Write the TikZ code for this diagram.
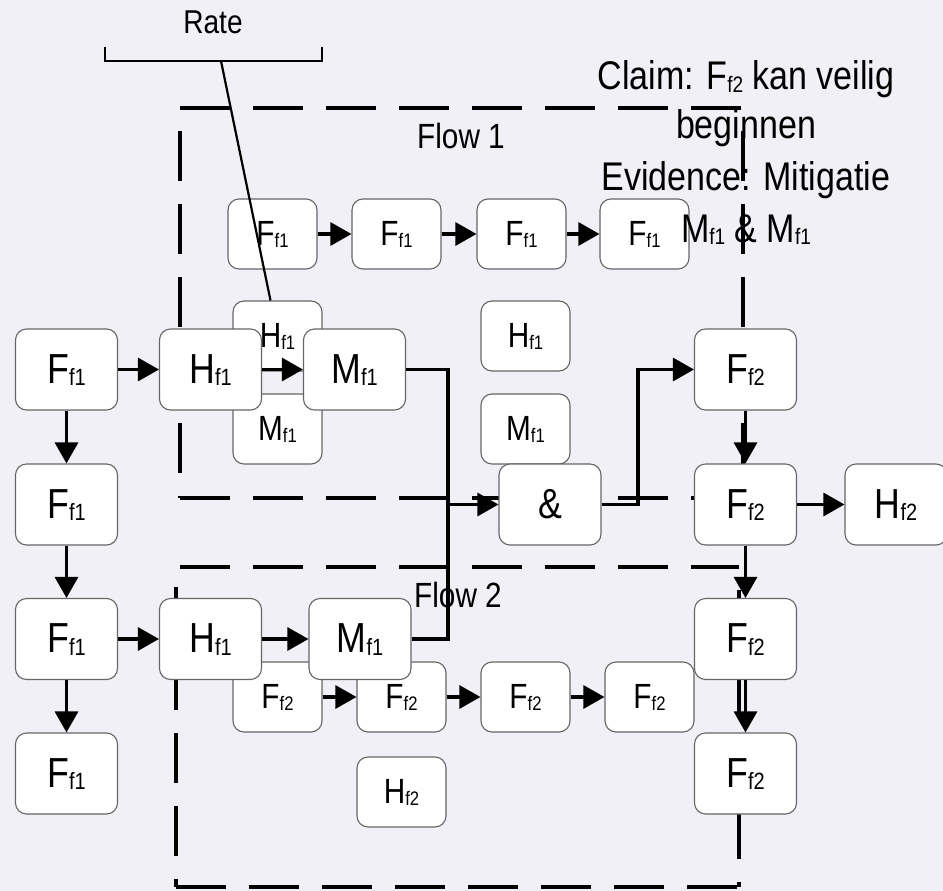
\documentclass[tikz,border=0pt]{standalone}
\usepackage{fontspec}
\setmainfont{Liberation Sans}[FakeStretch=0.85]
\usetikzlibrary{arrows.meta}
\definecolor{bgcol}{HTML}{F0F0F6}
\definecolor{boxline}{HTML}{666666}
\makeatletter
\newcommand\sub[1]{\raisebox{-0.07em}{\fontsize{\fpeval{0.56*\f@size}}{0}\selectfont #1}}
\makeatother
\tikzset{
  box/.style={draw=boxline, fill=white, rounded corners=11pt, line width=1.1pt, inner sep=0pt},
  bigbox/.style={box, minimum width=102pt, minimum height=81pt,
    font=\fontsize{42}{42}\selectfont, text height=30pt, text depth=3pt},
  smallbox/.style={box, minimum width=89pt, minimum height=70pt,
    font=\fontsize{35}{35}\selectfont, text height=25pt, text depth=2pt},
  link/.style={line width=3.1pt},
  arr/.style={link, -{Triangle[length=21pt,width=23pt]}},
  flowframe/.style={line width=3.1pt, dash pattern=on 50pt off 23pt},
  label/.style={anchor=base, inner sep=0pt},
  claim/.style={label, font=\fontsize{40}{40}\selectfont},
}
\begin{document}
\begin{tikzpicture}[x=1pt,y=-1pt]
\fill[bgcol] (0,0) rectangle (943,891);
\useasboundingbox (0,0) rectangle (943,891);

% dashed frame of flow 1
\draw[flowframe] (180,108) -- (743,108);
\draw[flowframe, dash phase=50pt] (180,108) -- (180,498);
\draw[flowframe, dash phase=50pt] (743,108) -- (743,498);
\draw[flowframe] (180,498) -- (743,498);
% dashed frame of flow 2
\draw[flowframe] (180,567) -- (739,567);
\draw[flowframe, dash phase=53pt] (176,567) -- (176,887);
\draw[flowframe, dash phase=50pt] (739,567) -- (739,887);
\draw[flowframe] (176,887) -- (739,887);

% small boxes
\node[smallbox] (t1) at (272.5,234) {F\sub{f1}};
\node[smallbox] (t2) at (396.5,234) {F\sub{f1}};
\node[smallbox] (t3) at (521.5,234) {F\sub{f1}};
\node[smallbox] (t4) at (644.5,234) {F\sub{f1}};
\node[smallbox] (hs1) at (277.5,336) {H\sub{f1}};
\node[smallbox] (ms1) at (277.5,429) {M\sub{f1}};
\node[smallbox] (hs2) at (525.5,336) {H\sub{f1}};
\node[smallbox] (ms2) at (525.5,429) {M\sub{f1}};
\node[smallbox] (b1) at (277.5,697) {F\sub{f2}};
\node[smallbox] (b2) at (401.5,697) {F\sub{f2}};
\node[smallbox] (b3) at (525.5,697) {F\sub{f2}};
\node[smallbox] (b4) at (649.5,697) {F\sub{f2}};
\node[smallbox] (hs3) at (401.5,792) {H\sub{f2}};

% large boxes
\node[bigbox] (fa1) at (66.5,369.5) {F\sub{f1}};
\node[bigbox] (fa2) at (66.5,504.5) {F\sub{f1}};
\node[bigbox] (fa3) at (66.5,639) {F\sub{f1}};
\node[bigbox] (fa4) at (66.5,773.5) {F\sub{f1}};
\node[bigbox] (ha1) at (210.5,369.5) {H\sub{f1}};
\node[bigbox] (ma1) at (354.5,369.5) {M\sub{f1}};
\node[bigbox] (ha3) at (210.5,639) {H\sub{f1}};
\node[bigbox] (ma3) at (360,639) {M\sub{f1}};
\node[bigbox] (and) at (550,504.5) {\&};
\node[bigbox] (fb1) at (745.5,369.5) {F\sub{f2}};
\node[bigbox] (fb2) at (745.5,504.5) {F\sub{f2}};
\node[bigbox] (fb3) at (745.5,639) {F\sub{f2}};
\node[bigbox] (fb4) at (745.5,773.5) {F\sub{f2}};
\node[bigbox] (hb2) at (896,504.5) {H\sub{f2}};

% junction points
\coordinate (jn) at (448,504.5);
\coordinate (jo) at (638,369.5);

% connectors
\draw[arr] (t1) -- (t2);
\draw[arr] (t2) -- (t3);
\draw[arr] (t3) -- (t4);
\draw[arr] (b1) -- (b2);
\draw[arr] (b2) -- (b3);
\draw[arr] (b3) -- (b4);
\draw[arr] (fa1) -- (fa2);
\draw[arr] (fa2) -- (fa3);
\draw[arr] (fa3) -- (fa4);
\draw[arr] (fa1) -- (ha1);
\draw[arr] (ha1) -- (ma1);
\draw[arr] (fa3) -- (ha3);
\draw[arr] (ha3) -- (ma3);
\draw[arr] (ma1.east) -| (jn) -- (and.west);
\draw[link] (ma3.east) -| (jn);
\draw[arr] (and.east) -| (jo) -- (fb1.west);
\draw[arr] (fb1) -- (fb2);
\draw[arr] (fb2) -- (hb2);
\draw[arr] (fb2) -- (fb3);
\draw[arr] (fb3) -- (fb4);

% rate bracket
\draw[line width=2.6pt] (105,47) -- (105,61) -- (322,61) -- (322,47);
\coordinate (rb) at (221,61);
\draw[line width=2.2pt] (rb) -- ([xshift=-7pt]hs1.north);
\node[label, font=\fontsize{33}{33}\selectfont] (rate) at (213,34) {Rate};

% flow labels
\node[label, font=\fontsize{35}{35}\selectfont] (fl1) at (461,148) {Flow 1};
\node[label, font=\fontsize{35}{35}\selectfont] (fl2) at (458,607) {Flow 2};

% claim
\node[claim] (c1) at (746,90) {Claim: F\sub{f2} kan veilig};
\node[claim] (c2) at (746,139) {beginnen};
\node[claim] (c3) at (746,190) {Evidence: Mitigatie};
\node[claim] (c4) at (746,242) {M\sub{f1} \& M\sub{f1}};
\end{tikzpicture}
\end{document}
